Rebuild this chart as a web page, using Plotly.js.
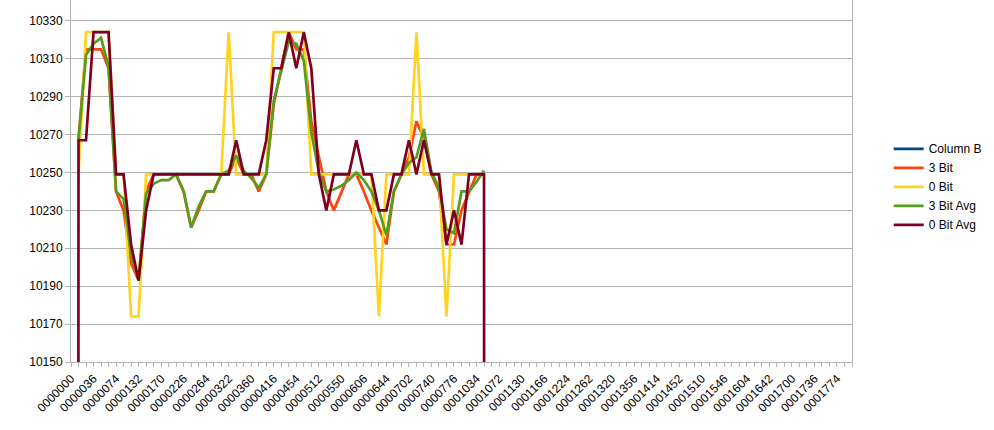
<!DOCTYPE html>
<html>
<head>
<meta charset="utf-8">
<script src="https://cdn.plot.ly/plotly-3.0.1.min.js"></script>
<style>html,body{margin:0;padding:0;background:#fff;}#chart{width:994px;height:430px;}</style>
</head>
<body>
<div id="chart"></div>
<script>
// Categories: octal sample addresses
const categories = [
"0000000","0000012","0000024","0000036","0000050","0000062","0000074","0000106","0000120","0000132",
"0000144","0000156","0000170","0000202","0000214","0000226","0000240","0000252","0000264","0000276",
"0000310","0000322","0000334","0000346","0000360","0000372","0000404","0000416","0000430","0000442",
"0000454","0000466","0000500","0000512","0000524","0000536","0000550","0000562","0000574","0000606",
"0000620","0000632","0000644","0000656","0000670","0000702","0000714","0000726","0000740","0000752",
"0000764","0000776","0001010","0001022","0001034","0001046","0001060","0001072","0001104","0001116",
"0001130","0001142","0001154","0001166","0001200","0001212","0001224","0001236","0001250","0001262",
"0001274","0001306","0001320","0001332","0001344","0001356","0001370","0001402","0001414","0001426",
"0001440","0001452","0001464","0001476","0001510","0001522","0001534","0001546","0001560","0001572",
"0001604","0001616","0001630","0001642","0001654","0001666","0001700","0001712","0001724","0001736",
"0001750","0001762","0001774","0002006","0002020"
];

const columnB = new Array(categories.length).fill(null);

const threeBit = [null,10268,10315,10315,10315,10305,10240,10230,10202,10193,
10240,10249,10249,10249,10249,10240,10221,10230,10240,10240,
10249,10249,10258,10249,10249,10240,10249,10286,10305,10324,
10315,10315,10277,10258,10240,10230,10240,10249,10249,10240,
10230,10221,10212,10240,10249,10258,10277,10268,10249,10240,
10212,10212,10230,10240,10249,10249,null];

const zeroBit = [null,10249,10324,10324,10324,10324,10249,10249,10174,10174,
10249,10249,10249,10249,10249,10249,10249,10249,10249,10249,
10249,10324,10249,10249,10249,10249,10249,10324,10324,10324,
10324,10324,10249,10249,10249,10249,10249,10249,10249,10249,
10249,10174,10249,10249,10249,10249,10324,10249,10249,10249,
10174,10249,10249,10249,10249,10249,null];

const threeBitAvg = [null,10267,10312,10318,10321,10306,10240,10236,10207,10193,
10239,10244,10246,10246,10249,10240,10221,10232,10240,10240,
10249,10251,10259,10251,10247,10242,10249,10288,10304,10319,
10318,10309,10271,10250,10240,10241,10243,10246,10250,10246,
10240,10230,10217,10240,10249,10255,10258,10273,10250,10242,
10220,10218,10240,10240,10245,10251,null];

const zeroBitAvg = [0,10267,10267,10324,10324,10324,10249,10249,10212,10193,
10230,10249,10249,10249,10249,10249,10249,10249,10249,10249,
10249,10249,10267,10249,10249,10249,10267,10305,10305,10324,
10305,10324,10305,10249,10230,10249,10249,10249,10267,10249,
10249,10230,10230,10249,10249,10267,10249,10267,10249,10249,
10212,10230,10212,10249,10249,10249,0];

const seriesNames = ["Column B","3 Bit","0 Bit","3 Bit Avg","0 Bit Avg"];
const seriesColors = ["#004586","#ff420e","#ffd320","#579d1c","#7e0021"];
const seriesData = [columnB, threeBit, zeroBit, threeBitAvg, zeroBitAvg];

const tickText = categories.map((c, i) => (i % 3 === 0 ? c : ""));

const traces = seriesData.map((ys, k) => ({
  type: "scatter",
  mode: "lines",
  name: seriesNames[k],
  x: categories.slice(0, ys.length),
  y: ys,
  line: {color: seriesColors[k], width: 2.7},
  connectgaps: false,
  hoverinfo: "skip"
}));

const layout = {
  width: 994, height: 430,
  margin: {l: 71, r: 142, t: 0, b: 68, pad: 0},
  paper_bgcolor: "#ffffff",
  plot_bgcolor: "#ffffff",
  font: {family: "Liberation Sans, Arial, sans-serif", size: 12, color: "#000000"},
  showlegend: true,
  legend: {
    x: 1.047, xanchor: "left", y: 0.484, yanchor: "middle",
    font: {family: "Liberation Sans, Arial, sans-serif", size: 12, color: "#000000"},
    bgcolor: "rgba(0,0,0,0)", tracegroupgap: 0, itemwidth: 30
  },
  xaxis: {
    type: "category",
    categoryorder: "array",
    categoryarray: categories,
    range: [0, categories.length - 1],
    tickmode: "array",
    tickvals: categories,
    ticktext: tickText,
    tickangle: -45,
    ticks: "outside", ticklen: 4, tickcolor: "#b3b3b3", tickwidth: 1,
    showgrid: false, zeroline: false,
    showline: true, linecolor: "#b3b3b3", linewidth: 1,
    tickfont: {size: 12, color: "#000000"},
    fixedrange: true
  },
  yaxis: {
    range: [10150, 10341],
    tickmode: "linear", tick0: 10150, dtick: 20,
    tickformat: "d",
    ticks: "outside", ticklen: 5, tickcolor: "#b3b3b3", tickwidth: 1,
    showgrid: true, gridcolor: "#b3b3b3", gridwidth: 1,
    zeroline: false,
    showline: true, linecolor: "#b3b3b3", linewidth: 1, mirror: true,
    tickfont: {size: 12, color: "#000000"},
    fixedrange: true
  }
};

Plotly.newPlot("chart", traces, layout, {displayModeBar: false, staticPlot: true});
</script>
</body>
</html>
